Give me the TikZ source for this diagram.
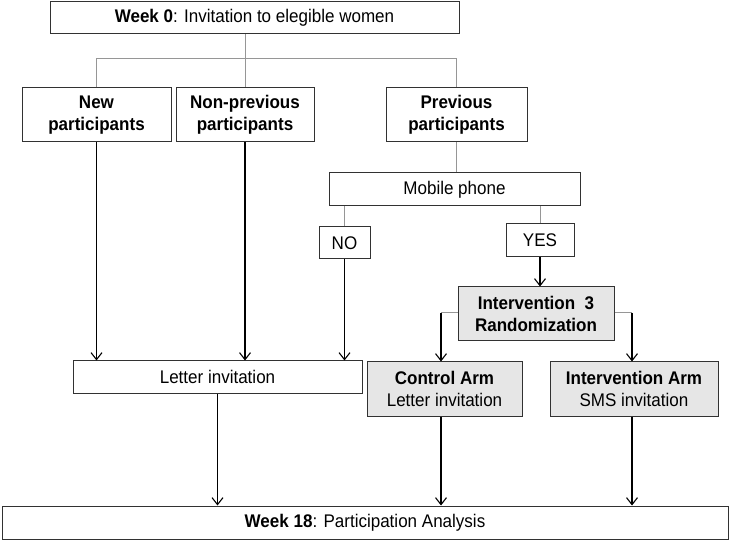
\documentclass[tikz,border=0pt]{standalone}
\usepackage{fontspec}
\setmainfont[FakeStretch=0.93]{Liberation Sans}
\usetikzlibrary{arrows.meta}
\definecolor{boxfill}{RGB}{230,230,230}
\definecolor{lgray}{RGB}{150,150,150}
\definecolor{edge}{RGB}{50,50,50}
\tikzset{
  box/.style={draw=edge, line width=1pt, inner sep=0pt, align=center, font=\fontsize{18.3}{21.5}\selectfont},
  graybox/.style={box, fill=boxfill},
  arr/.style={-{Straight Barb[length=7pt,width=11pt]}, line width=1.1pt, black},
  gline/.style={draw=lgray, line width=1pt}
}
\begin{document}
\begin{tikzpicture}[x=1pt,y=-1pt]
\useasboundingbox (0,0) rectangle (729,540);
\node[box, minimum width=409, minimum height=32] (week0) at (254.5,18) {\textbf{Week 0}: Invitation to elegible women};
\node[box, minimum width=149, minimum height=54] (new) at (96.5,115) {\textbf{New}\\\textbf{participants}};
\node[box, minimum width=138, minimum height=54] (nonprev) at (245,115) {\textbf{Non-previous}\\\textbf{participants}};
\node[box, minimum width=141, minimum height=54] (prev) at (456.5,115) {\textbf{Previous}\\\textbf{participants}};
\node[box, minimum width=251, minimum height=33] (mobile) at (454.5,189.5) {Mobile phone};
\node[box, minimum width=51, minimum height=32] (no) at (344.5,243) {NO};
\node[box, minimum width=68, minimum height=33] (yes) at (540,240.5) {YES};
\node[graybox, minimum width=156, minimum height=54] (interv) at (536,314) {\textbf{Intervention\ \ 3}\\\textbf{Randomization}};
\node[box, minimum width=289, minimum height=32] (letter) at (217.5,377) {Letter invitation};
\node[graybox, minimum width=155, minimum height=54] (control) at (444.5,389) {\textbf{Control Arm}\\Letter invitation};
\node[graybox, minimum width=168, minimum height=54] (intarm) at (634,389) {\textbf{Intervention Arm}\\SMS invitation};
\node[box, minimum width=726, minimum height=33] (week18) at (365,522.5) {\textbf{Week 18}: Participation Analysis};

\coordinate (bus) at (0,59);
\draw[gline] (nonprev.north |- week0.south) -- (nonprev.north);
\draw[gline] (new.north) -- (new.north |- bus) -- (prev.north |- bus) -- (prev.north);
\draw[gline] (prev.south) -- (prev.south |- mobile.north);
\draw[gline] (no.north |- mobile.south) -- (no.north);
\draw[gline] (yes.north |- mobile.south) -- (yes.north);
\draw[arr] (yes.south) -- (yes.south |- interv.north);
\draw[arr] (no.south) -- (no.south |- letter.north);
\draw[arr] (new.south) -- (new.south |- letter.north);
\draw[arr] (nonprev.south) -- (nonprev.south |- letter.north);
\coordinate (cl) at (441,313);
\coordinate (cr) at (632,313);
\draw[gline] (interv.west |- cl) -- (cl);
\draw[gline] (interv.east |- cr) -- (cr);
\draw[arr] (cl) -- (cl |- control.north);
\draw[arr] (cr) -- (cr |- intarm.north);
\draw[arr] (letter.south) -- (letter.south |- week18.north);
\draw[arr] (control.south -| cl) -- (cl |- week18.north);
\draw[arr] (intarm.south -| cr) -- (cr |- week18.north);
\end{tikzpicture}
\end{document}
